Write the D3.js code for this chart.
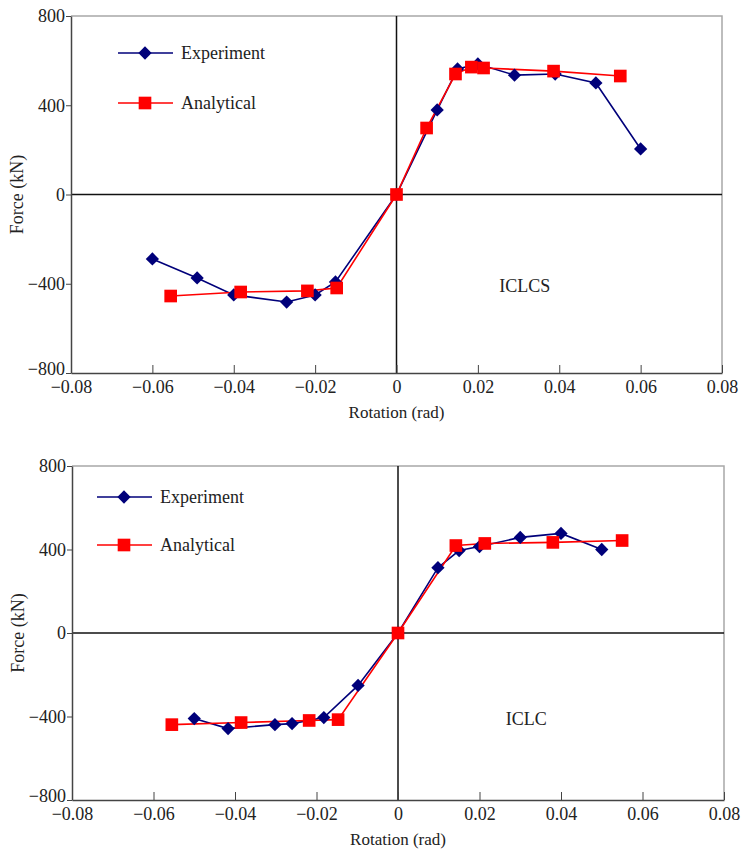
<!DOCTYPE html>
<html>
<head>
<meta charset="utf-8">
<script src="https://cdn.jsdelivr.net/npm/d3@7"></script>
<style>
  body { margin: 0; background: #fff; }
  svg text { font-family: "Liberation Serif", "DejaVu Serif", serif !important; fill: #222; }
</style>
</head>
<body>
<svg id="chart" width="743" height="853"></svg>
<script>
// ICLCS panel (top)
const iclcsExpRot   = [-0.060, -0.049, -0.040, -0.027, -0.020, -0.015, 0, 0.010, 0.015, 0.020, 0.029, 0.039, 0.049, 0.060];
const iclcsExpForce = [-289, -374, -450, -482, -450, -392, 0, 379, 563, 585, 535, 540, 500, 204];
const iclcsAnaRot   = [-0.0555, -0.0383, -0.0219, -0.0147, 0, 0.0074, 0.0145, 0.0184, 0.0214, 0.0386, 0.055];
const iclcsAnaForce = [-455, -437, -432, -419, 0, 298, 540, 571, 567, 553, 531];

// ICLC panel (bottom)
const iclcExpRot   = [-0.050, -0.0417, -0.0302, -0.026, -0.0182, -0.0098, 0, 0.0098, 0.015, 0.020, 0.030, 0.040, 0.050];
const iclcExpForce = [-410, -458, -439, -434, -405, -251, 0, 313, 395, 414, 458, 477, 400];
const iclcAnaRot   = [-0.0555, -0.0385, -0.0218, -0.0147, 0, 0.0142, 0.0213, 0.038, 0.055];
const iclcAnaForce = [-439, -429, -419, -415, 0, 419, 429, 434, 443];

const xTicks = [-0.08, -0.06, -0.04, -0.02, 0, 0.02, 0.04, 0.06, 0.08];
const yTicks = [-800, -400, 0, 400, 800];
const seriesNames = ["Experiment", "Analytical"];
const expColor = "#00007a", anaColor = "#ff0000";
const serif = "Liberation Serif, DejaVu Serif, serif";

const svg = d3.select("#chart");
const zip = (a, b) => a.map((v, i) => [v, b[i]]);
const fmt = d => d === 0 ? "0" : (d < 0 ? "\u2212" : "") + Math.abs(d);

function panel(box, exp, ana, label, legendAt) {
  const x = d3.scaleLinear().domain([-0.08, 0.08]).range([box.left, box.right]);
  const y = d3.scaleLinear().domain([-800, 800]).range([box.bottom, box.top]);
  const g = svg.append("g");

  // light frame top/right
  g.append("path")
    .attr("d", `M${box.left},${box.top}H${box.right}V${box.bottom}`)
    .attr("fill", "none").attr("stroke", "#a8a8a8").attr("stroke-width", 1.5);

  // zero lines
  g.append("line").attr("x1", box.left).attr("x2", box.right).attr("y1", y(0)).attr("y2", y(0))
    .attr("stroke", "#111").attr("stroke-width", 1.5);
  g.append("line").attr("x1", x(0)).attr("x2", x(0)).attr("y1", box.top).attr("y2", box.bottom)
    .attr("stroke", "#111").attr("stroke-width", 1.5);

  // x axis, ticks pointing inward
  const xa = g.append("g").attr("transform", `translate(0,${box.bottom})`)
    .call(d3.axisBottom(x).tickValues(xTicks).tickFormat(fmt).tickSizeInner(-8).tickSizeOuter(0).tickPadding(12))
    .attr("font-family", serif);
  xa.select(".domain").attr("stroke", "#444").attr("stroke-width", 1.5);
  xa.selectAll(".tick line").attr("stroke", "#444");
  xa.selectAll("text").style("font-size", "18px").attr("dy", "0.45em");

  // y axis, ticks outward
  const ya = g.append("g").attr("transform", `translate(${box.left},0)`)
    .call(d3.axisLeft(y).tickValues(yTicks).tickFormat(fmt).tickSizeInner(5).tickSizeOuter(0).tickPadding(1))
    .attr("font-family", serif);
  ya.select(".domain").attr("stroke", "#444").attr("stroke-width", 1.5);
  ya.selectAll(".tick line").attr("stroke", "#444");
  ya.selectAll("text").style("font-size", "18px")
    .attr("dy", d => d === -800 ? "0.1em" : "0.32em");

  // axis titles
  g.append("text").attr("transform", `translate(${box.left - 54},${y(0)}) rotate(-90)`)
    .attr("text-anchor", "middle").attr("dy", "0.35em").style("font-size", "18px").text("Force (kN)");
  g.append("text").attr("x", x(0)).attr("y", box.bottom + 45)
    .attr("text-anchor", "middle").style("font-size", "17px").text("Rotation (rad)");

  const line = d3.line().x(d => x(d[0])).y(d => y(d[1]));
  const diamond = d3.symbol().type(d3.symbolSquare).size(88);
  const square = d3.symbol().type(d3.symbolSquare).size(160);

  g.append("path").datum(exp).attr("d", line).attr("fill", "none").attr("stroke", expColor).attr("stroke-width", 1.6);
  g.append("path").datum(ana).attr("d", line).attr("fill", "none").attr("stroke", anaColor).attr("stroke-width", 1.6);

  g.selectAll(".dia").data(exp).join("path")
    .attr("d", diamond).attr("fill", expColor)
    .attr("transform", d => `translate(${x(d[0])},${y(d[1])}) rotate(45)`);
  g.selectAll(".sq").data(ana).join("path")
    .attr("d", square).attr("fill", anaColor)
    .attr("transform", d => `translate(${x(d[0])},${y(d[1])})`);

  // legend
  [expColor, anaColor].forEach((c, i) => {
    const ly = legendAt.y + i * legendAt.gap;
    g.append("line").attr("x1", legendAt.x).attr("x2", legendAt.x + 55).attr("y1", ly).attr("y2", ly)
      .attr("stroke", c).attr("stroke-width", 1.6);
    g.append("path").attr("d", i === 0 ? diamond : square).attr("fill", c)
      .attr("transform", `translate(${legendAt.x + 27},${ly})` + (i === 0 ? " rotate(45)" : ""));
    g.append("text").attr("x", legendAt.x + 63).attr("y", ly).attr("dy", "0.35em")
      .style("font-size", "18px").text(seriesNames[i]);
  });

  g.append("text").attr("x", x(0.0315)).attr("y", y(-410)).attr("dy", "0.35em")
    .attr("text-anchor", "middle").style("font-size", "18px").text(label);
}

panel({left: 71, right: 722, top: 16, bottom: 373},
  zip(iclcsExpRot, iclcsExpForce), zip(iclcsAnaRot, iclcsAnaForce), "ICLCS",
  {x: 118, y: 53, gap: 50});
panel({left: 72, right: 724, top: 466, bottom: 800},
  zip(iclcExpRot, iclcExpForce), zip(iclcAnaRot, iclcAnaForce), "ICLC",
  {x: 97, y: 497, gap: 48});
</script>
</body>
</html>
